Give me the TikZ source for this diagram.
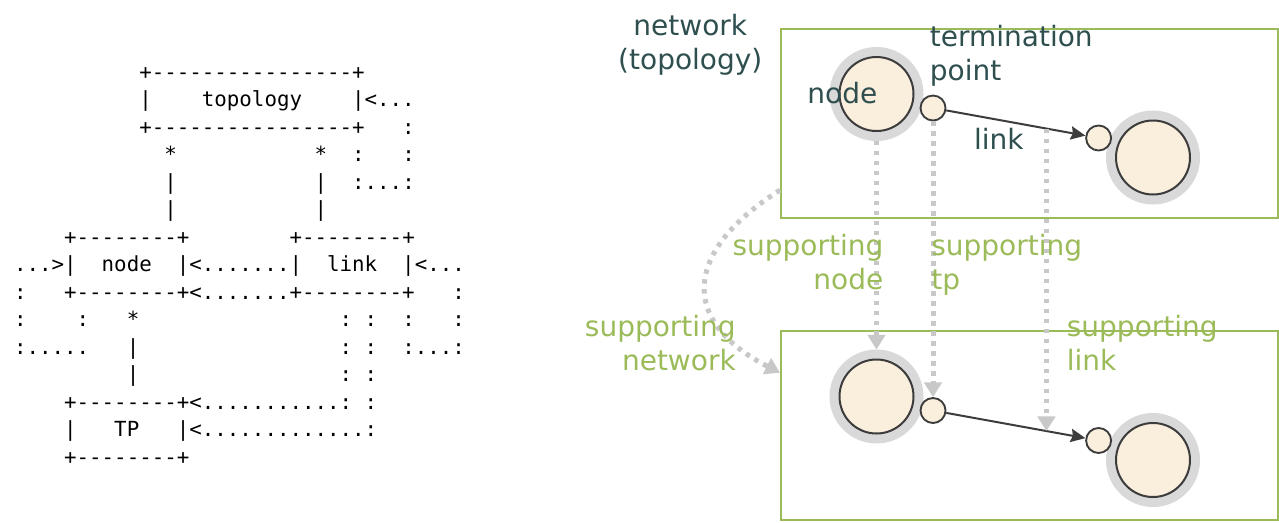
\documentclass[tikz,border=0pt]{standalone}
\usepackage{fontspec}
\setmainfont{DejaVu Sans}
\setmonofont{DejaVu Sans Mono}
\usetikzlibrary{arrows.meta}
\definecolor{netgreen}{HTML}{9BBB59}
\definecolor{slate}{HTML}{2F4F4F}
\definecolor{ballfill}{HTML}{FAEEDC}
\definecolor{halo}{HTML}{D9D9D9}
\definecolor{edgegray}{HTML}{3C3C3C}
\definecolor{suppgray}{HTML}{C8C8C8}

\begin{document}
\begin{tikzpicture}[x=0.75pt,y=-0.75pt,node distance=226.875pt]
  \tikzstyle{ascii}=[anchor=base west,inner sep=0,font=\ttfamily\fontsize{15.6pt}{20.6pt}\selectfont]
  \tikzstyle{netbox}=[draw=netgreen,line width=1.5pt,minimum width=372.75pt,minimum height=141.4pt,inner sep=0]
  \tikzstyle{ball}=[circle,fill=ballfill,draw=edgegray,line width=1.5pt,minimum size=55.5pt,inner sep=0,outer sep=7.5pt,preaction={draw=halo,line width=15pt}]
  \tikzstyle{tp}=[circle,fill=ballfill,draw=edgegray,line width=1.4pt,minimum size=18.75pt,inner sep=0]
  \tikzstyle{link}=[draw=edgegray,line width=1.5pt,-{Stealth[length=11pt,width=10pt,inset=1.5pt]}]
  \tikzstyle{supp}=[draw=suppgray,line width=3.75pt,dash pattern=on 3.3pt off 4.2pt,-{Triangle[length=11pt,width=13pt]}]
  \tikzstyle{lbl}=[text=slate,inner sep=0,font=\fontsize{21pt}{25.5pt}\selectfont]
  \tikzstyle{supplbl}=[text=netgreen,inner sep=0,font=\fontsize{21pt}{25.5pt}\selectfont]

  \useasboundingbox (0,0) rectangle (1279,522);

  \node[ascii] (a0)  at (13.8,79)    {~~~~~~~~~~+----------------+};
  \node[ascii] (a1)  at (13.8,106.5) {~~~~~~~~~~|~~~~topology~~~~|<...};
  \node[ascii] (a2)  at (13.8,134)   {~~~~~~~~~~+----------------+~~~:};
  \node[ascii] (a3)  at (13.8,161.5) {~~~~~~~~~~~~*~~~~~~~~~~~*~~:~~~:};
  \node[ascii] (a4)  at (13.8,189)   {~~~~~~~~~~~~|~~~~~~~~~~~|~~:...:};
  \node[ascii] (a5)  at (13.8,216.5) {~~~~~~~~~~~~|~~~~~~~~~~~|};
  \node[ascii] (a6)  at (13.8,244)   {~~~~+--------+~~~~~~~~+--------+};
  \node[ascii] (a7)  at (13.8,271.5) {...>|~~node~~|<.......|~~link~~|<...};
  \node[ascii] (a8)  at (13.8,299)   {:~~~+--------+<.......+--------+~~~:};
  \node[ascii] (a9)  at (13.8,326.5) {:~~~~:~~~*~~~~~~~~~~~~~~~~:~:~~:~~~:};
  \node[ascii] (a10) at (13.8,354)   {:.....~~~|~~~~~~~~~~~~~~~~:~:~~:...:};
  \node[ascii] (a11) at (13.8,381.5) {~~~~~~~~~|~~~~~~~~~~~~~~~~:~:};
  \node[ascii] (a12) at (13.8,409)   {~~~~+--------+<...........:~:};
  \node[ascii] (a13) at (13.8,436.5) {~~~~|~~~TP~~~|<.............:};
  \node[ascii] (a14) at (13.8,464)   {~~~~+--------+};

  \node[netbox] (net1) at (1029.5,123.25) {};
  \node[netbox] (net2) [below of=net1]    {};

  \node[ball] (n1)  at (876.5,94)    {};
  \node[ball] (n2)  at (1153,157.5)  {};
  \node[ball] (n1b) [below of=n1]    {};
  \node[ball] (n2b) [below of=n2]    {};
  \node[tp]   (tp1) at (933,108)     {};
  \node[tp]   (tp2) at (1098.6,138)  {};
  \node[tp]   (tp1b) [below of=tp1]  {};
  \node[tp]   (tp2b) [below of=tp2]  {};

  \draw[link] (tp1)  -- coordinate[pos=0.72] (l1) (tp2);
  \draw[link] (tp1b) -- coordinate[pos=0.72] (l2) (tp2b);

  \draw[supp] (n1.south) -- (n1b.north);
  \draw[supp] (tp1.south) -- (tp1b.north);
  \draw[supp] (l1) -- (l2);
  \draw[supp] (net1.195) .. controls +(-98,62) and +(-100,-51) .. (net2.168);

  \node[lbl,align=center,anchor=north] (nettitle) at (690.3,13.7) {network\\(topology)};
  \node[lbl,anchor=base east] (nodelbl) at (877.5,103) {node};
  \node[lbl,align=left,anchor=north west] (tplbl) at (929.6,25.4) {termination\\point};
  \node[lbl,anchor=base west] (linklbl) at (973.8,149) {link};

  \node[supplbl,align=right,anchor=north east] (snodelbl) at (883.6,233.7) {supporting\\node};
  \node[supplbl,align=left,anchor=north west] (stplbl) at (931,233.7) {supporting\\tp};
  \node[supplbl,align=right,anchor=north east] (snetlbl) at (736,315.4) {supporting\\network};
  \node[supplbl,align=left,anchor=north west] (slinklbl) at (1066.6,315.4) {supporting\\link};
\end{tikzpicture}
\end{document}
